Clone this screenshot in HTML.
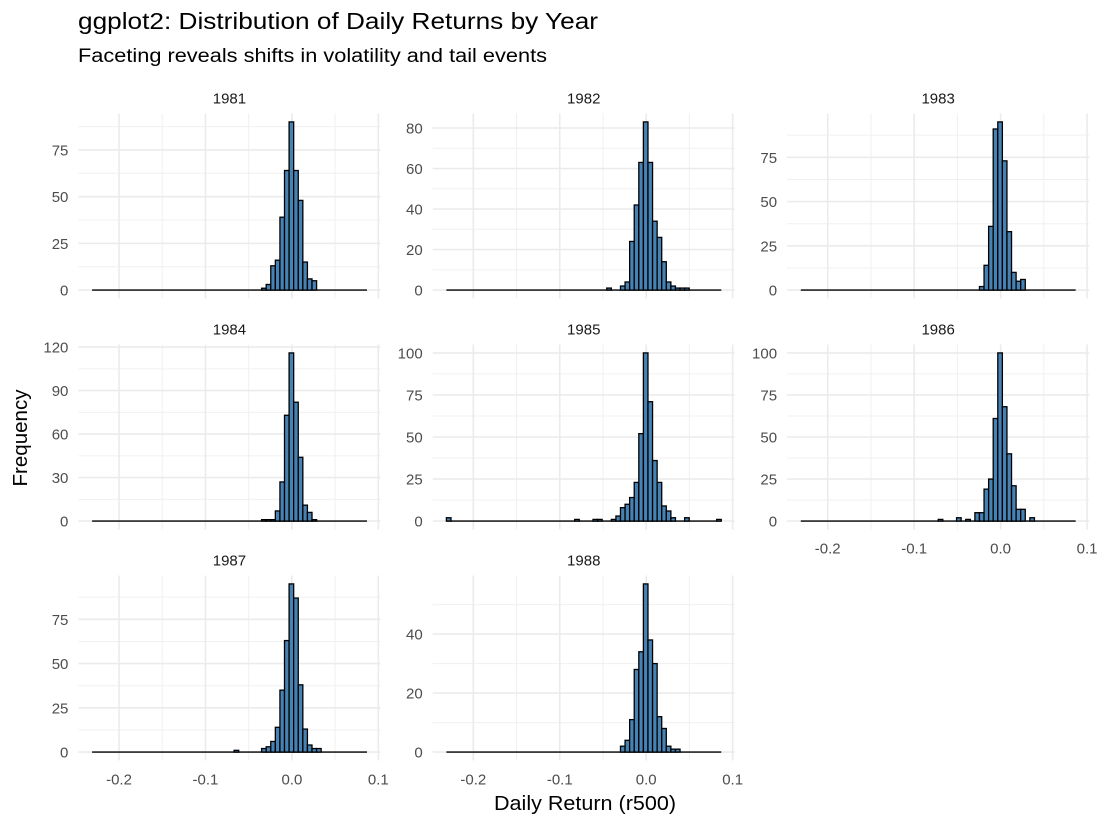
<!DOCTYPE html>
<html><head><meta charset="utf-8">
<style>
html,body{margin:0;padding:0;background:#fff;}
svg{display:block;font-family:"Liberation Sans",Arial,sans-serif;}
</style></head>
<body>
<svg id="chart" width="1102" height="825" viewBox="0 0 1102 825">
<text x="78" y="29" font-size="23" textLength="520" lengthAdjust="spacingAndGlyphs" fill="#000">ggplot2: Distribution of Daily Returns by Year</text>
<text x="78" y="62" font-size="19" textLength="469" lengthAdjust="spacingAndGlyphs" fill="#000">Faceting reveals shifts in volatility and tail events</text>
<text x="585" y="810" font-size="20" text-anchor="middle" textLength="182" lengthAdjust="spacingAndGlyphs" fill="#000">Daily Return (r500)</text>
<text transform="translate(27,438) rotate(-90)" font-size="20" text-anchor="middle" textLength="97" lengthAdjust="spacingAndGlyphs" fill="#000">Frequency</text>
<g id="panels"></g>
</svg>
<script>
const years = ["1981","1982","1983","1984","1985","1986","1987","1988"];
const bins1981 = [37,38,39,40,41,42,43,44,45,46,47,48];
const counts1981 = [1,3,13,16,39,64,90,64,48,15,6,5];
const bins1982 = [35,38,39,40,41,42,43,44,45,46,47,48,49,50,51,52];
const counts1982 = [1,2,4,24,42,63,83,63,34,26,14,4,2,1,1,1];
const bins1983 = [39,40,41,42,43,44,45,46,47,48];
const counts1983 = [2,14,36,91,95,73,33,10,5,6];
const bins1984 = [37,38,39,40,41,42,43,44,45,46,47,48];
const counts1984 = [1,1,1,7,27,73,116,82,44,11,6,1];
const bins1985 = [0,28,32,33,36,37,38,39,40,41,42,43,44,45,46,47,48,49,52,59];
const counts1985 = [2,1,1,1,1,3,8,10,14,23,52,100,71,36,23,9,6,2,2,1];
const bins1986 = [30,34,36,38,39,40,41,42,43,44,45,46,47,48,50];
const counts1986 = [1,2,1,5,5,19,25,61,100,68,40,21,7,7,2];
const bins1987 = [31,37,38,39,40,41,42,43,44,45,46,47,48,49];
const counts1987 = [1,2,3,6,14,35,63,95,87,38,13,4,2,2];
const bins1988 = [38,39,40,41,42,43,44,45,46,47,48,49,50];
const counts1988 = [2,4,11,28,34,57,38,30,12,8,2,1,1];
const yTicks1981 = [0,25,50,75];
const yTicks1982 = [0,20,40,60,80];
const yTicks1983 = [0,25,50,75];
const yTicks1984 = [0,30,60,90,120];
const yTicks1985 = [0,25,50,75,100];
const yTicks1986 = [0,25,50,75,100];
const yTicks1987 = [0,25,50,75];
const yTicks1988 = [0,20,40];
const xTicks = [-0.2,-0.1,0.0,0.1];
const xTickLabels = ["-0.2","-0.1","0.0","0.1"];
const xMinor = [-0.15,-0.05,0.05];

const allBins = {"1981":bins1981,"1982":bins1982,"1983":bins1983,"1984":bins1984,"1985":bins1985,"1986":bins1986,"1987":bins1987,"1988":bins1988};
const allCounts = {"1981":counts1981,"1982":counts1982,"1983":counts1983,"1984":counts1984,"1985":counts1985,"1986":counts1986,"1987":counts1987,"1988":counts1988};
const allTicks = {"1981":yTicks1981,"1982":yTicks1982,"1983":yTicks1983,"1984":yTicks1984,"1985":yTicks1985,"1986":yTicks1986,"1987":yTicks1987,"1988":yTicks1988};

const NBINS = 60, BW = 0.0053, FIRST = -0.2285;
const colZero = [291.9, 646.2, 1000.6];
const XS = 864.4;
const rowTop = [113.5, 344.5, 575.5];
const PH = 185;
const PL = -0.247, PR = 0.1025;
const NS = "http://www.w3.org/2000/svg";
const root = document.getElementById('panels');

function mk(tag, attrs, parent){
  const e = document.createElementNS(NS, tag);
  for (const k in attrs) e.setAttribute(k, attrs[k]);
  parent.appendChild(e);
  return e;
}

years.forEach((yr, i) => {
  const col = i % 3, row = Math.floor(i / 3);
  const xScale = v => colZero[col] + v * XS;
  const bins = allBins[yr], counts = allCounts[yr], ticks = allTicks[yr];
  const full = new Array(NBINS).fill(0);
  bins.forEach((b, j) => { full[b] = counts[j]; });
  const mx = Math.max(...counts);
  const ymin = -0.05 * mx, ymax = 1.05 * mx;
  const top = rowTop[row];
  const yScale = v => top + PH - (v - ymin) / (ymax - ymin) * PH;

  const g = mk('g', {}, root);
  
  

  const x0 = xScale(PL), x1 = xScale(PR);
  const step = ticks[1] - ticks[0];
  for (let t = 0; t < ticks.length; t++) {
    const mv = ticks[t] + step / 2;
    if (mv < ymax) {
      const l = mk('line', {x1:x0, x2:x1, y1:yScale(mv), y2:yScale(mv), stroke:'#f0f0f0', 'stroke-width':1}, g);
      
      
    }
  }
  xMinor.forEach(v => {
    const l = mk('line', {x1:xScale(v), x2:xScale(v), y1:top, y2:top+PH, stroke:'#f0f0f0', 'stroke-width':1}, g);
    
    
  });
  ticks.forEach(v => {
    const l = mk('line', {x1:x0, x2:x1, y1:yScale(v), y2:yScale(v), stroke:'#ebebeb', 'stroke-width':1.6}, g);
    
    
    const t = mk('text', {x: x0 - 10, y: yScale(v) + 5.5, 'font-size':15, 'text-anchor':'end', fill:'#4d4d4d'}, g);
    t.textContent = String(v);
    
    
  });
  xTicks.forEach(v => {
    const l = mk('line', {x1:xScale(v), x2:xScale(v), y1:top, y2:top+PH, stroke:'#ebebeb', 'stroke-width':1.6}, g);
    
    
  });
  const s = mk('text', {x:(x0+x1)/2, y: top - 10, 'font-size':15, 'text-anchor':'middle', fill:'#1a1a1a'}, g);
  s.textContent = yr;
  
  
  // baseline for empty bins
  const bl = mk('line', {x1:xScale(FIRST - BW/2), x2:xScale(FIRST + (NBINS-0.5)*BW), y1:yScale(0), y2:yScale(0), stroke:'#000', 'stroke-width':1.4}, g);
  
  
  for (let k = 0; k < NBINS; k++) {
    if (full[k] <= 0) continue;
    const c = FIRST + k * BW;
    const bx = xScale(c - BW/2), bx2 = xScale(c + BW/2);
    const by = yScale(full[k]), b0 = yScale(0);
    const r = mk('rect', {x:bx, y:by, width:bx2-bx, height:Math.max(0, b0-by), fill:'#4682b4', stroke:'#000', 'stroke-width':1.3}, g);
    
    
  }
  const showX = (row === 2) || (row === 1 && col === 2);
  if (showX) {
    xTicks.forEach((v, j) => {
      const t = mk('text', {x:xScale(v), y: top + PH + 24, 'font-size':15, 'text-anchor':'middle', fill:'#4d4d4d'}, g);
      t.textContent = xTickLabels[j];
      
      
    });
  }
});
</script>
</body></html>
